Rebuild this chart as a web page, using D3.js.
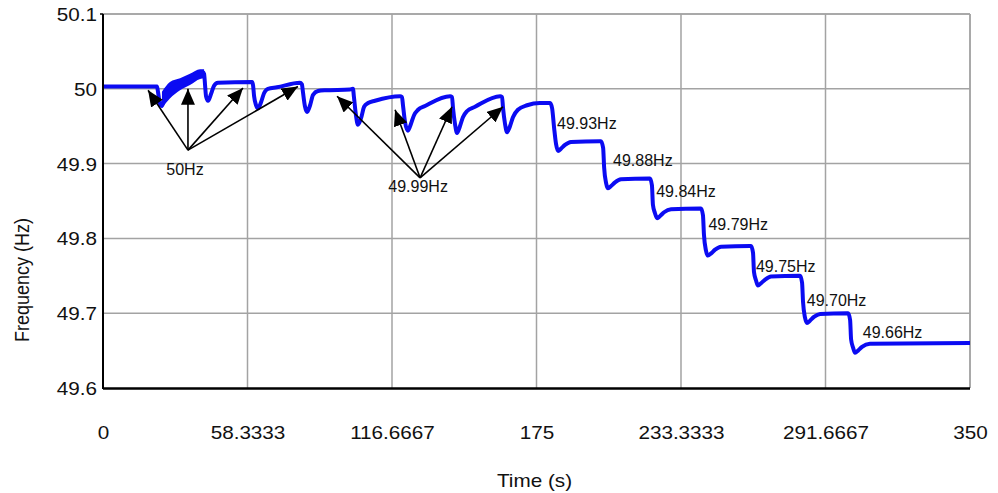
<!DOCTYPE html>
<html>
<head>
<meta charset="utf-8">
<script src="https://cdn.jsdelivr.net/npm/d3@7/dist/d3.min.js"></script>
<style>
  html, body { margin: 0; padding: 0; background: #fff; }
  svg { display: block; font-family: "Liberation Sans", Arial, sans-serif; }
</style>
</head>
<body>
<svg id="chart" width="998" height="493"></svg>
<script>
// Grid frequency response: time (s) vs frequency (Hz)
const timeS = [
  0, 21.8, 22.2, 23.0, 23.8, 25.0, 27.0, 31.1, 35.1, 39.2, 40.4,
  40.8, 41.2, 41.6, 42.4, 43.6, 44.8, 46.4, 60.2,
  60.6, 61.0, 61.8, 62.6, 63.8, 65.0, 66.6, 70.2, 79.5,
  80.3, 80.7, 81.5, 82.4, 83.6, 84.8, 86.8, 89.6, 99.7,
  100.9, 101.3, 102.1, 102.9, 104.2, 105.4, 107.0, 109.8, 119.9,
  120.7, 121.1, 121.9, 123.1, 124.3, 125.6, 127.2, 130.0, 140.1,
  140.9, 141.3, 142.1, 142.9, 144.1, 145.3, 146.9, 150.2, 160.3,
  161.1, 161.5, 162.3, 163.1, 164.3, 165.5, 167.5, 171.2, 176.4, 180.1,
  180.5, 181.3, 182.1, 182.9, 183.7, 184.9, 186.5, 188.9, 200.6,
  201.0, 201.9, 202.3, 203.1, 203.9, 205.1, 206.7, 209.1, 220.4,
  220.8, 221.6, 222.0, 222.8, 223.7, 224.9, 226.5, 229.3, 241.0,
  241.4, 242.2, 242.6, 243.4, 244.2, 245.5, 247.1, 249.5, 261.2,
  261.6, 262.4, 262.8, 263.6, 264.4, 265.6, 267.3, 269.7, 281.0,
  281.4, 282.2, 282.6, 283.4, 284.2, 285.4, 287.0, 289.5, 300.4,
  300.8, 301.6, 302.0, 302.8, 303.6, 304.8, 306.4, 309.6, 350
];
const freqHz = [
  50.003, 50.003, 49.996, 49.980, 49.977, 49.989, 49.998, 50.006, 50.012, 50.020, 50.022,
  50.020, 50.005, 49.990, 49.984, 49.993, 50.004, 50.008, 50.009,
  50.004, 49.990, 49.978, 49.974, 49.982, 49.994, 50.000, 50.002, 50.008,
  50.006, 49.996, 49.977, 49.969, 49.978, 49.992, 49.997, 49.998, 49.999,
  50.000, 49.989, 49.965, 49.952, 49.961, 49.976, 49.981, 49.984, 49.990,
  49.989, 49.978, 49.956, 49.944, 49.953, 49.965, 49.972, 49.977, 49.990,
  49.989, 49.974, 49.953, 49.941, 49.950, 49.962, 49.970, 49.976, 49.990,
  49.989, 49.974, 49.953, 49.942, 49.950, 49.962, 49.972, 49.978, 49.981, 49.981,
  49.981, 49.974, 49.948, 49.926, 49.917, 49.920, 49.925, 49.929, 49.930,
  49.930, 49.921, 49.895, 49.874, 49.867, 49.870, 49.875, 49.879, 49.880,
  49.880, 49.871, 49.845, 49.834, 49.827, 49.830, 49.835, 49.839, 49.840,
  49.840, 49.831, 49.805, 49.784, 49.777, 49.780, 49.785, 49.789, 49.790,
  49.790, 49.781, 49.755, 49.744, 49.737, 49.740, 49.745, 49.749, 49.750,
  49.750, 49.741, 49.715, 49.694, 49.687, 49.690, 49.695, 49.699, 49.700,
  49.700, 49.691, 49.665, 49.654, 49.647, 49.650, 49.655, 49.659, 49.660
];

// Noisy stretch just after the first disturbance: envelope of the trace
const noiseTime  = [23.8, 27.0, 31.1, 35.1, 39.2, 40.8];
const noiseLower = [49.974, 49.987, 49.998, 50.005, 50.013, 50.014];
const noiseUpper = [49.996, 50.009, 50.014, 50.020, 50.026, 50.026];

// Axis ticks
const xTicks = [0, 58.3333, 116.6667, 175, 233.3333, 291.6667, 350];
const xTickLabels = ["0", "58.3333", "116.6667", "175", "233.3333", "291.6667", "350"];
const yTicks = [49.6, 49.7, 49.8, 49.9, 50.0, 50.1];
const yTickLabels = ["49.6", "49.7", "49.8", "49.9", "50", "50.1"];

// Step-level annotations (text, anchor time, anchor frequency)
const stepLabels = ["49.93Hz", "49.88Hz", "49.84Hz", "49.79Hz", "49.75Hz", "49.70Hz", "49.66Hz"];
const stepLabelT = [183.3, 205.9, 223.3, 244.4, 263.6, 284.1, 306.7];
const stepLabelF = [49.9456, 49.8968, 49.855, 49.8112, 49.7555, 49.710, 49.6664];

// Arrow groups: label, label anchor, arrow origin, arrow tips
const arrowGroupLabels = ["50Hz", "49.99Hz"];
const arrowLabelT = [33.1, 127.2];
const arrowLabelF = [49.8843, 49.8617];
const arrowOriginT = [34.3, 128.0];
const arrowOriginF = [49.918, 49.881];
const arrowTipT = [[18.2, 34.3, 56.5, 78.7], [94.5, 117.9, 140.9, 161.5]];
const arrowTipF = [[49.998, 50.000, 50.001, 50.003], [49.990, 49.972, 49.976, 49.976]];

const W = 998, H = 493;
const margin = { top: 14, right: 28, bottom: 105, left: 103 };
const iw = W - margin.left - margin.right;
const ih = H - margin.top - margin.bottom;

const svg = d3.select("#chart");
const g = svg.append("g").attr("transform", `translate(${margin.left},${margin.top})`);

const x = d3.scaleLinear().domain([0, 350]).range([0, iw]);
const y = d3.scaleLinear().domain([49.6, 50.1]).range([ih, 0]);

const textStretch = 1.15;

// Grid
g.append("g").selectAll("line.vg").data(xTicks.slice(1)).join("line")
  .attr("x1", d => x(d)).attr("x2", d => x(d))
  .attr("y1", 0).attr("y2", ih)
  .attr("stroke", "#a3a3a3").attr("stroke-width", 1.5);
g.append("g").selectAll("line.hg").data(yTicks.slice(1)).join("line")
  .attr("x1", 0).attr("x2", iw)
  .attr("y1", d => y(d)).attr("y2", d => y(d))
  .attr("stroke", "#a3a3a3").attr("stroke-width", 1.5);

// Axes
const xAxis = g.append("g").attr("transform", `translate(0,${ih})`)
  .call(d3.axisBottom(x).tickValues(xTicks).tickSize(0)
    .tickFormat((d, i) => xTickLabels[i]));
xAxis.select(".domain").remove();
xAxis.selectAll("text")
  .attr("y", 0).attr("dy", null)
  .attr("transform", `translate(0,51) scale(${textStretch},1)`)
  .attr("font-size", 18).attr("fill", "#111")
  .attr("font-family", "'Liberation Sans', Arial, sans-serif");

const yAxis = g.append("g")
  .call(d3.axisLeft(y).tickValues(yTicks).tickSize(0)
    .tickFormat((d, i) => yTickLabels[i]));
yAxis.select(".domain").remove();
yAxis.selectAll("text")
  .attr("x", 0).attr("dy", "0.36em")
  .attr("transform", `translate(-6,0) scale(${textStretch},1)`)
  .attr("font-size", 18).attr("fill", "#111")
  .attr("font-family", "'Liberation Sans', Arial, sans-serif");

// Frame: grey top/right, black left/bottom
g.append("line").attr("x1", 0).attr("x2", iw).attr("y1", 0).attr("y2", 0)
  .attr("stroke", "#a3a3a3").attr("stroke-width", 1.5);
g.append("line").attr("x1", iw).attr("x2", iw).attr("y1", 0).attr("y2", ih)
  .attr("stroke", "#a3a3a3").attr("stroke-width", 1.5);
g.append("line").attr("x1", -3).attr("x2", 0).attr("y1", 0).attr("y2", 0)
  .attr("stroke", "#000").attr("stroke-width", 1.5);

// Noisy envelope
const noiseData = noiseTime.map((t, i) => ({ t, lo: noiseLower[i], hi: noiseUpper[i] }));
g.append("path").datum(noiseData)
  .attr("d", d3.area().x(d => x(d.t)).y0(d => y(d.lo)).y1(d => y(d.hi)).curve(d3.curveMonotoneX))
  .attr("fill", "#0b0bf2");

// Frequency trace
const series = timeS.map((t, i) => ({ t, f: freqHz[i] }));
g.append("path").datum(series)
  .attr("d", d3.line().x(d => x(d.t)).y(d => y(d.f)).curve(d3.curveMonotoneX))
  .attr("fill", "none").attr("stroke", "#0b0bf2").attr("stroke-width", 4)
  .attr("stroke-linejoin", "round").attr("stroke-linecap", "butt");

g.append("line").attr("x1", 0).attr("x2", 0).attr("y1", 0).attr("y2", ih + 1)
  .attr("stroke", "#000").attr("stroke-width", 2);
g.append("line").attr("x1", 0).attr("x2", iw).attr("y1", ih + 0.5).attr("y2", ih + 0.5)
  .attr("stroke", "#000").attr("stroke-width", 2.5);

// Arrow markers
svg.append("defs").append("marker")
  .attr("id", "head").attr("markerUnits", "userSpaceOnUse")
  .attr("viewBox", "0 0 16 14").attr("markerWidth", 16).attr("markerHeight", 14)
  .attr("refX", 16).attr("refY", 7).attr("orient", "auto")
  .append("path").attr("d", "M0,0 L16,7 L0,14 Z").attr("fill", "#000");

arrowGroupLabels.forEach((lab, gi) => {
  arrowTipT[gi].forEach((tt, k) => {
    g.append("line")
      .attr("x1", x(arrowOriginT[gi])).attr("y1", y(arrowOriginF[gi]))
      .attr("x2", x(tt)).attr("y2", y(arrowTipF[gi][k]))
      .attr("stroke", "#000").attr("stroke-width", 1.6)
      .attr("marker-end", "url(#head)");
  });
  g.append("text")
    .attr("x", x(arrowLabelT[gi])).attr("y", y(arrowLabelF[gi]))
    .attr("text-anchor", "middle").attr("font-size", 16).attr("fill", "#111")
    .text(lab);
});

// Step annotations
stepLabels.forEach((lab, i) => {
  g.append("text")
    .attr("x", x(stepLabelT[i])).attr("y", y(stepLabelF[i]))
    .attr("font-size", 16).attr("fill", "#111")
    .text(lab);
});

// Axis titles
svg.append("text")
  .attr("transform", `translate(${margin.left + iw / 2 - 2},487) scale(${textStretch},1)`)
  .attr("text-anchor", "middle").attr("font-size", 18).attr("fill", "#111")
  .text("Time (s)");
svg.append("text")
  .attr("transform", `translate(29,280) scale(${textStretch},1) rotate(-90)`)
  .attr("text-anchor", "middle").attr("font-size", 18).attr("fill", "#111")
  .text("Frequency (Hz)");
</script>
</body>
</html>
